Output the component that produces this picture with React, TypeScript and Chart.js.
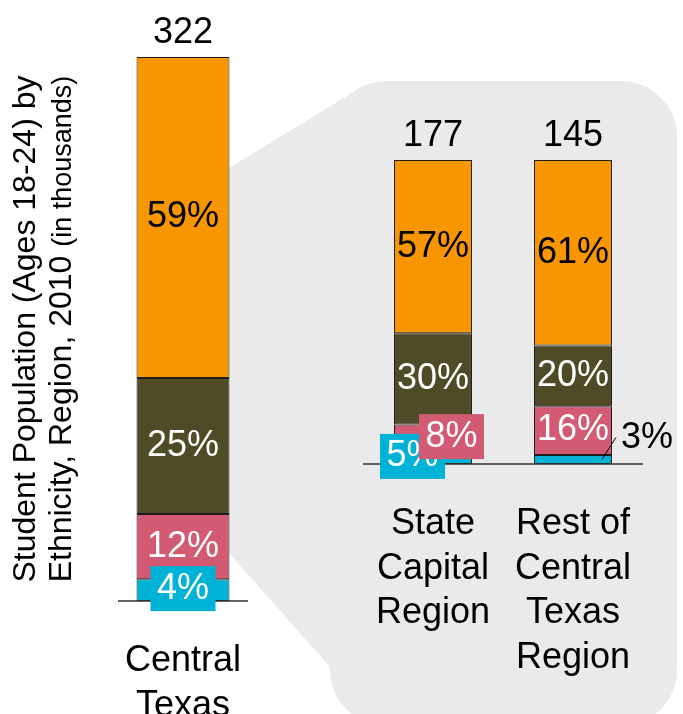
import React, { useEffect, useRef } from "react";
import { Chart, registerables } from "chart.js";

Chart.register(...registerables);

const W = 683;
const H = 714;
const FONT = '"Liberation Sans", Arial, Helvetica, sans-serif';

// ---------- data ----------
const seriesNames = ["Asian", "African American", "Hispanic", "White"];

const leftCategories = [["Central", "Texas"]];
const leftTotals = [322];
const leftAsian = [4];
const leftAfricanAmerican = [12];
const leftHispanic = [25];
const leftWhite = [59];

const rightCategories = [
  ["State", "Capital", "Region"],
  ["Rest of", "Central", "Texas", "Region"],
];
const rightTotals = [177, 145];
const rightAsian = [5, 3];
const rightAfricanAmerican = [8, 16];
const rightHispanic = [30, 20];
const rightWhite = [57, 61];

const axisTitleLine1 = "Student Population (Ages 18-24) by";
const axisTitleLine2 = "Ethnicity, Region, 2010 ";
const axisTitleUnit = "(in thousands)";

// ---------- styles ----------
const seriesColors = ["#00B2D6", "#D25A72", "#4F4B27", "#F79600"];
const labelColors = ["#FFFFFF", "#FFFFFF", "#FFFFFF", "#000000"];
const panelColor = "#EAEAEA";

type Special = { kind: "box" | "outside"; dx?: number; dy?: number };

function buildDatasets(arrs: number[][], barPct: number) {
  return arrs.map((data, i) => ({
    label: seriesNames[i],
    data,
    backgroundColor: seriesColors[i],
    borderColor: "#1E1E1E",
    borderWidth: 1,
    borderSkipped: false as const,
    barPercentage: barPct,
    categoryPercentage: 1,
  }));
}

function labelsPlugin(id: string, totals: number[], special: Record<string, Special>) {
  return {
    id,
    afterDatasetsDraw(chart: any) {
      const ctx: CanvasRenderingContext2D = chart.ctx;
      const ys = chart.scales.y;
      const xs = chart.scales.x;
      const base = ys.getPixelForValue(0);
      const area = chart.chartArea;
      ctx.save();
      // baseline
      ctx.strokeStyle = "#333333";
      ctx.lineWidth = 1.5;
      ctx.beginPath();
      ctx.moveTo(area.left, base);
      ctx.lineTo(area.right, base);
      ctx.stroke();

      ctx.font = `36px ${FONT}`;
      chart.data.datasets.forEach((ds: any, di: number) => {
        const meta = chart.getDatasetMeta(di);
        meta.data.forEach((el: any, i: number) => {
          const p = el.getProps(["x", "y", "base", "width"], true);
          const cy = (p.y + p.base) / 2;
          const text = `${ds.data[i]}%`;
          const sp = special[`${di}-${i}`];
          if (sp && sp.kind === "box") {
            const cx = p.x + (sp.dx || 0);
            const by = cy + (sp.dy || 0);
            const tw = ctx.measureText(text).width + 13;
            const th = 45;
            ctx.fillStyle = seriesColors[di];
            ctx.fillRect(cx - tw / 2, by - th / 2, tw, th);
            ctx.fillStyle = "#FFFFFF";
            ctx.textAlign = "center";
            ctx.textBaseline = "middle";
            ctx.fillText(text, cx, by);
          } else if (sp && sp.kind === "outside") {
            const right = p.x + p.width / 2;
            ctx.strokeStyle = "#000000";
            ctx.lineWidth = 1;
            ctx.beginPath();
            ctx.moveTo(right - 10, cy);
            ctx.lineTo(right + 4, cy - 22);
            ctx.stroke();
            ctx.fillStyle = "#000000";
            ctx.textAlign = "left";
            ctx.textBaseline = "middle";
            ctx.fillText(text, right + 9, cy - 21);
          } else {
            ctx.fillStyle = labelColors[di];
            ctx.textAlign = "center";
            ctx.textBaseline = "middle";
            ctx.fillText(text, p.x, cy);
          }
        });
      });

      // totals above bars
      const topMeta = chart.getDatasetMeta(chart.data.datasets.length - 1);
      ctx.fillStyle = "#000000";
      ctx.textAlign = "center";
      ctx.textBaseline = "alphabetic";
      topMeta.data.forEach((el: any, i: number) => {
        ctx.fillText(String(totals[i]), el.x, el.y - 14);
      });

      // category labels
      chart.data.labels.forEach((lab: string[], i: number) => {
        const x = xs.getPixelForValue(i);
        lab.forEach((line, k) => {
          ctx.fillText(line, x, base + 70 + k * 44.5);
        });
      });
      ctx.restore();
    },
  };
}

const panelPlugin = {
  id: "panel",
  beforeDatasetsDraw(chart: any) {
    const ctx: CanvasRenderingContext2D = chart.ctx;
    const el = chart.getDatasetMeta(0).data[0];
    const bx = el.x + el.width / 2 - 0.5;
    ctx.save();
    ctx.fillStyle = panelColor;
    ctx.beginPath();
    ctx.moveTo(bx, 168);
    ctx.lineTo(352, 93);
    ctx.quadraticCurveTo(366, 81, 390, 81);
    ctx.lineTo(621, 81);
    ctx.arcTo(677, 81, 677, 137, 56);
    ctx.lineTo(677, 670);
    ctx.arcTo(677, 726, 621, 726, 56);
    ctx.lineTo(386, 726);
    ctx.arcTo(330, 726, 330, 670, 56);
    ctx.lineTo(329, 666);
    ctx.lineTo(bx, 553);
    ctx.closePath();
    ctx.fill();
    ctx.restore();
  },
};

const titlePlugin = {
  id: "axisTitle",
  afterDraw(chart: any) {
    const ctx: CanvasRenderingContext2D = chart.ctx;
    const area = chart.chartArea;
    const mid = (area.top + area.bottom) / 2;
    ctx.save();
    ctx.translate(0, mid);
    ctx.rotate(-Math.PI / 2);
    ctx.fillStyle = "#000000";
    ctx.textBaseline = "alphabetic";
    ctx.font = `32px ${FONT}`;
    ctx.textAlign = "center";
    ctx.fillText(axisTitleLine1, 0, 35);
    ctx.textAlign = "left";
    const w1 = ctx.measureText(axisTitleLine2).width;
    ctx.font = `27px ${FONT}`;
    const w2 = ctx.measureText(axisTitleUnit).width;
    const start = -(w1 + w2) / 2;
    ctx.font = `32px ${FONT}`;
    ctx.fillText(axisTitleLine2, start, 71);
    ctx.font = `27px ${FONT}`;
    ctx.fillText(axisTitleUnit, start + w1, 71);
    ctx.restore();
  },
};

export default function App() {
  const leftRef = useRef<HTMLCanvasElement>(null);
  const rightRef = useRef<HTMLCanvasElement>(null);

  useEffect(() => {
    if (!leftRef.current || !rightRef.current) return;
    const common = {
      responsive: false,
      animation: false as const,
      events: [] as any[],
      plugins: { legend: { display: false }, tooltip: { enabled: false } },
    };
    const left = new Chart(leftRef.current, {
      type: "bar",
      data: {
        labels: leftCategories as any,
        datasets: buildDatasets(
          [leftAsian, leftAfricanAmerican, leftHispanic, leftWhite],
          0.715
        ),
      },
      options: {
        ...common,
        layout: { padding: { left: 118, right: W - 248, top: 57, bottom: H - 601 } },
        scales: {
          x: { display: false, stacked: true },
          y: { display: false, stacked: true, min: 0, max: 100 },
        },
      },
      plugins: [panelPlugin, labelsPlugin("leftLabels", leftTotals, { "0-0": { kind: "box", dy: -1.5 } }), titlePlugin],
    });
    const right = new Chart(rightRef.current, {
      type: "bar",
      data: {
        labels: rightCategories as any,
        datasets: buildDatasets(
          [rightAsian, rightAfricanAmerican, rightHispanic, rightWhite],
          0.557
        ),
      },
      options: {
        ...common,
        layout: { padding: { left: 363, right: W - 643, top: 160, bottom: H - 464 } },
        scales: {
          x: { display: false, stacked: true },
          y: { display: false, stacked: true, min: 0, max: 100 },
        },
      },
      plugins: [
        labelsPlugin("rightLabels", rightTotals, {
          "0-0": { kind: "box", dx: -20.5 },
          "1-0": { kind: "box", dx: 18.5 },
          "0-1": { kind: "outside" },
        }),
      ],
    });
    return () => {
      left.destroy();
      right.destroy();
    };
  }, []);

  return (
    <div style={{ position: "absolute", left: 0, top: 0, width: W, height: H, background: "#FFFFFF" }}>
      <canvas ref={leftRef} width={W} height={H} style={{ position: "absolute", left: 0, top: 0 }} />
      <canvas ref={rightRef} width={W} height={H} style={{ position: "absolute", left: 0, top: 0 }} />
    </div>
  );
}
